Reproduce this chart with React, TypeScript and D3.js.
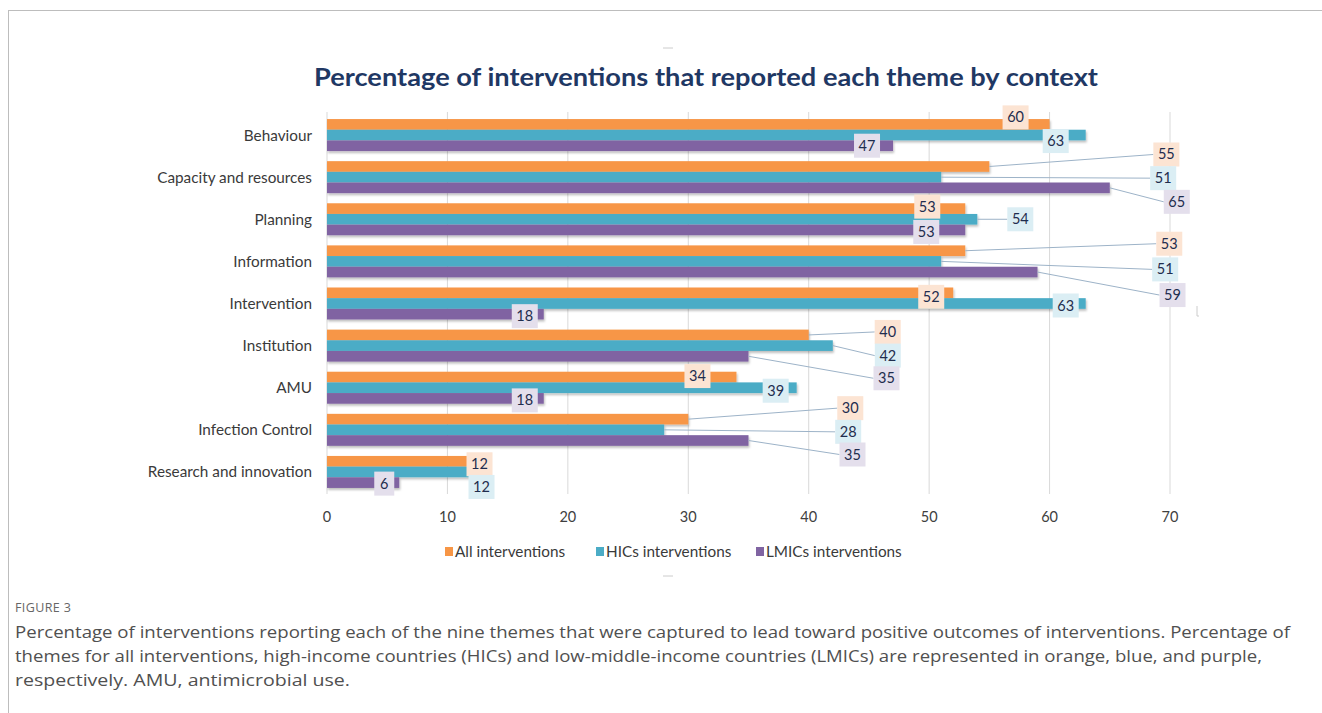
import React from "react";
import * as d3 from "d3";

const categories = [
  "Behaviour",
  "Capacity and resources",
  "Planning",
  "Information",
  "Intervention",
  "Institution",
  "AMU",
  "Infection Control",
  "Research and innovation",
];
const seriesNames = ["All interventions", "HICs interventions", "LMICs interventions"];
const allValues = [60, 55, 53, 53, 52, 40, 34, 30, 12];
const hicValues = [63, 51, 54, 51, 63, 42, 39, 28, 12];
const lmicValues = [47, 65, 53, 59, 18, 35, 18, 35, 6];
const xTicks = [0, 10, 20, 30, 40, 50, 60, 70];

const title = "Percentage of interventions that reported each theme by context";
const figureLabel = "FIGURE 3";
const captionLines = [
  "Percentage of interventions reporting each of the nine themes that were captured to lead toward positive outcomes of interventions. Percentage of",
  "themes for all interventions, high-income countries (HICs) and low-middle-income countries (LMICs) are represented in orange, blue, and purple,",
  "respectively. AMU, antimicrobial use.",
];
const captionWidths = [1275, 1247, 335];

// layout: label offsets (dx, dy) in px from bar end / bar centre, per category per series
const labelOffsets = [
  [[-34, -7], [-30, 6], [-26, 0]],
  [[177, -12], [222, 1], [67, 14]],
  [[-38, -2], [43, 0], [-39, 2]],
  [[204, -7], [224, 8], [135, 23]],
  [[-22, 4], [-20, 2], [-19, 2]],
  [[79, -3], [55, 10], [138, 22]],
  [[-39, -1], [-21, 3], [-19, 2]],
  [[162, -11], [184, 2], [104, 14]],
  [[8, 3], [10, 15], [-15, 1]],
];

const colors = ["#F79646", "#4BACC6", "#8064A2"];
const boxColors = ["#FCE4D3", "#DBEEF4", "#E4DFEC"];

export default function App() {
  const series = [allValues, hicValues, lmicValues];
  const x = d3.scaleLinear().domain([0, 70]).range([327, 1170]);
  const y0 = d3.scaleBand<string>().domain(categories).range([114, 493]).paddingInner(0.24).paddingOuter(0.12);
  const y1 = d3.scaleBand<number>().domain([0, 1, 2]).range([0, y0.bandwidth()]);
  const font = "Lato, 'Open Sans', sans-serif";
  const textCol = "#1F2D4E";

  return (
    <svg width={1322} height={713} style={{ position: "absolute", left: 0, top: 0, background: "#fff" }}>
      <defs>
        <filter id="sh" x="-5%" y="-50%" width="110%" height="250%">
          <feDropShadow dx="1" dy="2" stdDeviation="1.2" floodColor="#000" floodOpacity="0.25" />
        </filter>
      </defs>
      {/* frame */}
      <line x1={8} x2={1322} y1={10.5} y2={10.5} stroke="#bdbdbd" />
      <line x1={8.5} x2={8.5} y1={10} y2={713} stroke="#bdbdbd" />
      {/* title */}
      <text x={706} y={86} textAnchor="middle" fontFamily={font} fontWeight={700} fontSize={25} fill="#1F3864" textLength={784} lengthAdjust="spacingAndGlyphs">
        {title}
      </text>
      {/* gridlines */}
      {xTicks.map((t) => (
        <line key={t} x1={x(t)} x2={x(t)} y1={112} y2={494} stroke="#D9D9D9" strokeWidth={1} />
      ))}
      {/* tick labels */}
      {xTicks.map((t) => (
        <text key={"t" + t} x={x(t)} y={522} textAnchor="middle" fontFamily={font} fontSize={14.5} fill="#404040">
          {t}
        </text>
      ))}
      {/* category labels */}
      {categories.map((c) => (
        <text key={c} x={312} y={(y0(c) as number) + y0.bandwidth() / 2 + 5.5} textAnchor="end" fontFamily={font} fontSize={15.3} fill="#3A3A3A">
          {c}
        </text>
      ))}
      {/* bars */}
      {categories.map((c, i) =>
        series.map((vals, s) => (
          <rect
            key={c + s}
            x={x(0)}
            y={(y0(c) as number) + (y1(s) as number)}
            width={x(vals[i]) - x(0)}
            height={y1.bandwidth()}
            fill={colors[s]}
            filter="url(#sh)"
          />
        ))
      )}
      {/* leader lines */}
      {categories.map((c, i) =>
        series.map((vals, s) => {
          const [dx, dy] = labelOffsets[i][s];
          const bx = x(vals[i]);
          const by = (y0(c) as number) + (y1(s) as number) + y1.bandwidth() / 2;
          if (dx < 20) return null;
          return <line key={"l" + c + s} x1={bx} y1={by} x2={bx + dx - 13} y2={by + dy} stroke="#9DB3C8" strokeWidth={1} />;
        })
      )}
      {/* data labels */}
      {categories.map((c, i) =>
        series.map((vals, s) => {
          const [dx, dy] = labelOffsets[i][s];
          const bx = x(vals[i]) + dx;
          const by = (y0(c) as number) + (y1(s) as number) + y1.bandwidth() / 2 + dy;
          const w = vals[i] >= 10 ? 26 : 20;
          return (
            <g key={"d" + c + s}>
              <rect x={bx - w / 2} y={by - 12} width={w} height={24} fill={boxColors[s]} />
              <text x={bx} y={by + 5} textAnchor="middle" fontFamily={font} fontSize={14.5} fill={textCol}>
                {vals[i]}
              </text>
            </g>
          );
        })
      )}
      {/* legend */}
      {seriesNames.map((n, s) => {
        const lx = [445, 596, 756][s];
        return (
          <g key={n}>
            <rect x={lx} y={547} width={8} height={9} fill={colors[s]} />
            <text x={lx + 10} y={557} fontFamily={font} fontSize={15.3} fill="#3A3A3A">
              {n}
            </text>
          </g>
        );
      })}
      {/* small artifacts */}
      <line x1={663} x2={673} y1={48} y2={48} stroke="#ccc" />
      <line x1={663} x2={673} y1={576} y2={576} stroke="#ccc" />
      <path d="M1197,306 v10 h2" stroke="#ccc" fill="none" />
      {/* caption */}
      <text x={15} y={612} fontFamily="'Open Sans', sans-serif" fontSize={12.5} fill="#666" letterSpacing={0.4}>
        {figureLabel}
      </text>
      {captionLines.map((l, i) => (
        <text key={i} x={15} y={638 + i * 24} fontFamily="'Open Sans', sans-serif" fontSize={17} fill="#505050" textLength={captionWidths[i]} lengthAdjust="spacingAndGlyphs">
          {l}
        </text>
      ))}
    </svg>
  );
}
